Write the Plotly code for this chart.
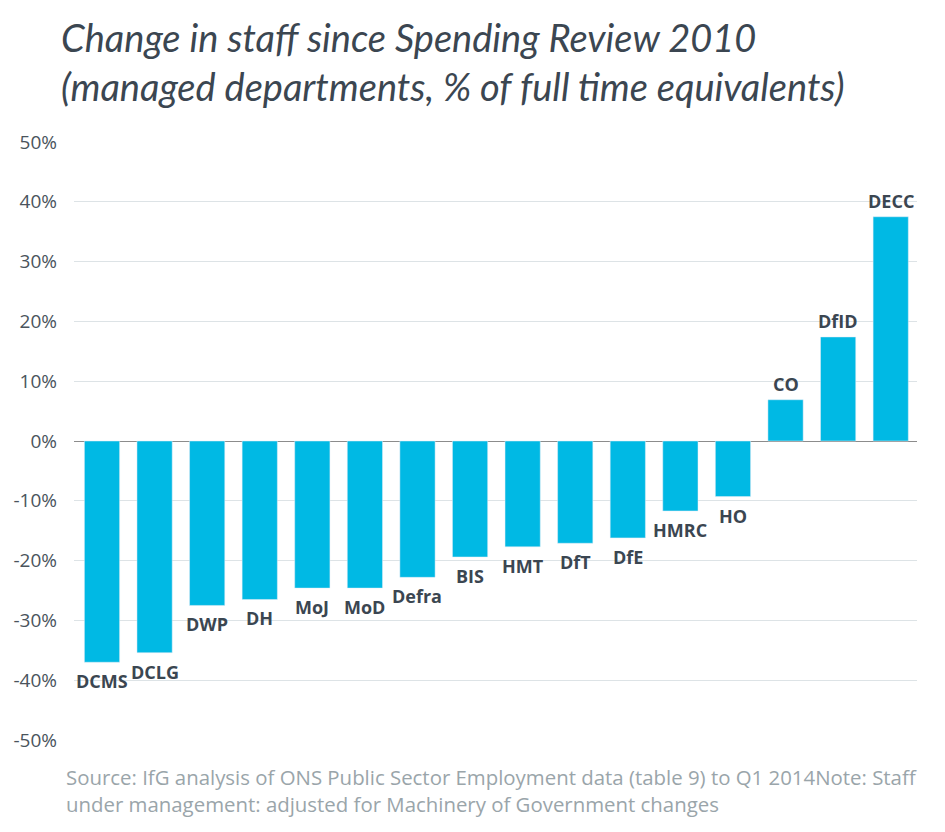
import plotly.graph_objects as go

# departments, ordered as in the chart
departments = ["DCMS", "DCLG", "DWP", "DH", "MoJ", "MoD", "Defra", "BIS",
               "HMT", "DfT", "DfE", "HMRC", "HO", "CO", "DfID", "DECC"]
# change in FTE since SR2010, %
change_pct = [-37.0, -35.4, -27.5, -26.5, -24.6, -24.6, -22.8, -19.4,
              -17.7, -17.1, -16.2, -11.7, -9.3, 6.9, 17.4, 37.5]
y_ticks = [-50, -40, -30, -20, -10, 0, 10, 20, 30, 40, 50]
y_ticklabels = ["%d%%" % t for t in y_ticks]

title_text = ("Change in staff since Spending Review 2010<br>"
              "(managed departments, % of full time equivalents)")
source_text = ("Source: IfG analysis of ONS Public Sector Employment data (table 9) to Q1 2014Note: Staff<br>"
               "under management: adjusted for Machinery of Government changes")

fig = go.Figure()
fig.add_trace(go.Bar(x=departments, y=change_pct, marker_color="#00B9E4",
                     hoverinfo="x+y"))

# department names sit a little past the end of each bar
for dept, val in zip(departments, change_pct):
    fig.add_annotation(x=dept, y=val, text="<b>%s</b>" % dept, showarrow=False,
                       yanchor="middle", yshift=-19 if val < 0 else 16,
                       font=dict(family="Open Sans", size=18, color="#3b4651"))

# page body has an 8px margin, so the figure is 8px smaller than the window
fig.update_layout(
    width=937, height=824,
    margin=dict(l=66, r=28, t=134, b=92),
    plot_bgcolor="white", paper_bgcolor="white",
    bargap=0.33,
    showlegend=False,
)

fig.update_xaxes(showticklabels=False, showgrid=False, ticks="", automargin=False)
fig.update_yaxes(range=[-50, 50], tickvals=y_ticks, ticktext=y_ticklabels,
                 showgrid=True, gridcolor="#dde3e6", gridwidth=1,
                 zeroline=True, zerolinecolor="#8c8c8c", zerolinewidth=1,
                 tickfont=dict(family="Open Sans", size=19, color="#4a545c"),
                 ticklabelstandoff=16, automargin=False)

# title as a paper annotation so it doesn't push the plot area around
fig.add_annotation(text=title_text, xref="paper", yref="paper", x=-0.018, y=1.218,
                   xanchor="left", yanchor="top", showarrow=False, align="left",
                   font=dict(family="Lato", size=38, color="#3b4651", style="italic"))

fig.add_annotation(text=source_text, xref="paper", yref="paper", x=-0.012, y=-0.035,
                   xanchor="left", yanchor="top", showarrow=False, align="left",
                   font=dict(family="Open Sans", size=20.4, color="#9aa5aa"))

fig.write_html("out.html")
